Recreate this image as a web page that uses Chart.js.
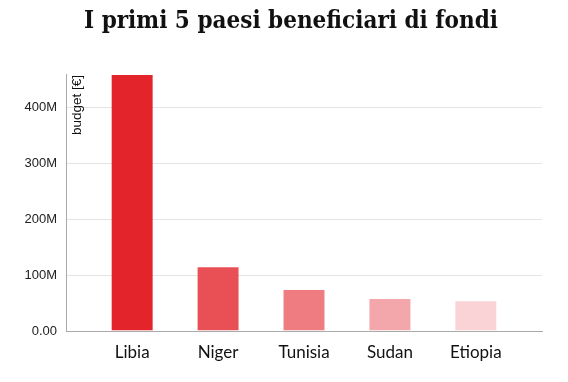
<!DOCTYPE html>
<html>
<head>
<meta charset="utf-8">
<script src="https://cdn.jsdelivr.net/npm/chart.js@4"></script>
<style>
  html, body { margin: 0; padding: 0; background: #fff; }
  #wrap { width: 568px; height: 382px; }
</style>
</head>
<body>
<div id="wrap"><canvas id="chart-budget"></canvas></div>
<script>
const TITLE = 'I primi 5 paesi beneficiari di fondi'
const Y_LABEL = 'budget [€]'
const countries = ['Libia', 'Niger', 'Tunisia', 'Sudan', 'Etiopia']
const budget = [460e6, 116e6, 75e6, 59e6, 55e6]
const alphas = [1, 0.8, 0.6, 0.4, 0.2]
const yTicks = [0, 100e6, 200e6, 300e6, 400e6]

// red fading toward white, same as the source palette
function tint(a) {
  const mix = (c) => Math.round(c * a + 255 * (1 - a))
  return `rgb(${mix(227)}, ${mix(36)}, ${mix(43)})`
}

// axis title sits inside the plot, top-left, rotated
const yLabelPlugin = {
  id: 'yLabel',
  afterLayout(chart) {
    // title in the source is centred a bit right of the canvas middle
    if (chart.titleBlock) {
      chart.titleBlock.left = 40
      chart.titleBlock.right = 542
    }
  },
  afterDraw(chart) {
    const { ctx, chartArea } = chart
    ctx.save()
    ctx.translate(chartArea.left + 11, chartArea.top + 1)
    ctx.rotate(-Math.PI / 2)
    ctx.font = '13.5px "Liberation Sans", Arial, sans-serif'
    ctx.fillStyle = '#111'
    ctx.textAlign = 'right'
    ctx.textBaseline = 'middle'
    ctx.fillText(Y_LABEL, 0, 0)
    ctx.restore()
  },
}

const ctx = document.getElementById('chart-budget')
new Chart(ctx, {
  type: 'bar',
  data: {
    datasets: [{
      data: countries.map((c, i) => ({ x: i, y: budget[i] })),
      backgroundColor: alphas.map(tint),
      borderColor: 'rgba(255,255,255,0.35)',
      borderWidth: 1,
      barPercentage: 0.5,
      categoryPercentage: 1,
    }],
  },
  options: {
    responsive: true,
    maintainAspectRatio: false,
    animation: false,
    layout: { padding: { left: 0, right: 26, top: 0, bottom: 0 } },
    plugins: {
      legend: { display: false },
      tooltip: { enabled: false },
      title: {
        display: true,
        text: TITLE,
        color: '#111',
        font: { family: '"DejaVu Serif Condensed", "DejaVu Serif", serif', size: 24, weight: 'bold', lineHeight: 1.2 },
        padding: { top: 7, bottom: 38.2 },
      },
    },
    scales: {
      x: {
        type: 'linear',
        offset: false,
        min: -0.77,
        max: 4.77,
        afterBuildTicks: (s) => { s.ticks = countries.map((c, i) => ({ value: i })) },
        afterFit: (s) => { s.height = 51 },
        ticks: {
          color: '#111',
          font: { family: 'Lato, sans-serif', size: 17 },
          padding: 11,
          autoSkip: false,
          maxRotation: 0,
          callback: (v) => countries[v],
        },
        grid: { display: false, drawTicks: false, offset: false },
        border: { display: true, color: '#aaa', width: 1 },
      },
      y: {
        beginAtZero: true,
        max: Math.max(...budget),
        afterBuildTicks: (s) => { s.ticks = yTicks.map((v) => ({ value: v })) },
        afterFit: (s) => { s.width = 66 },
        ticks: {
          color: '#222',
          font: { family: '"Liberation Sans", Arial, sans-serif', size: 13 },
          padding: 9,
          callback: (v) => v === 0 ? '0.00' : (v / 1e6) + 'M',
        },
        grid: { color: '#e4e4e4', drawTicks: false },
        border: { display: true, color: '#aaa', width: 1 },
      },
    },
  },
  plugins: [yLabelPlugin],
})
</script>
</body>
</html>
